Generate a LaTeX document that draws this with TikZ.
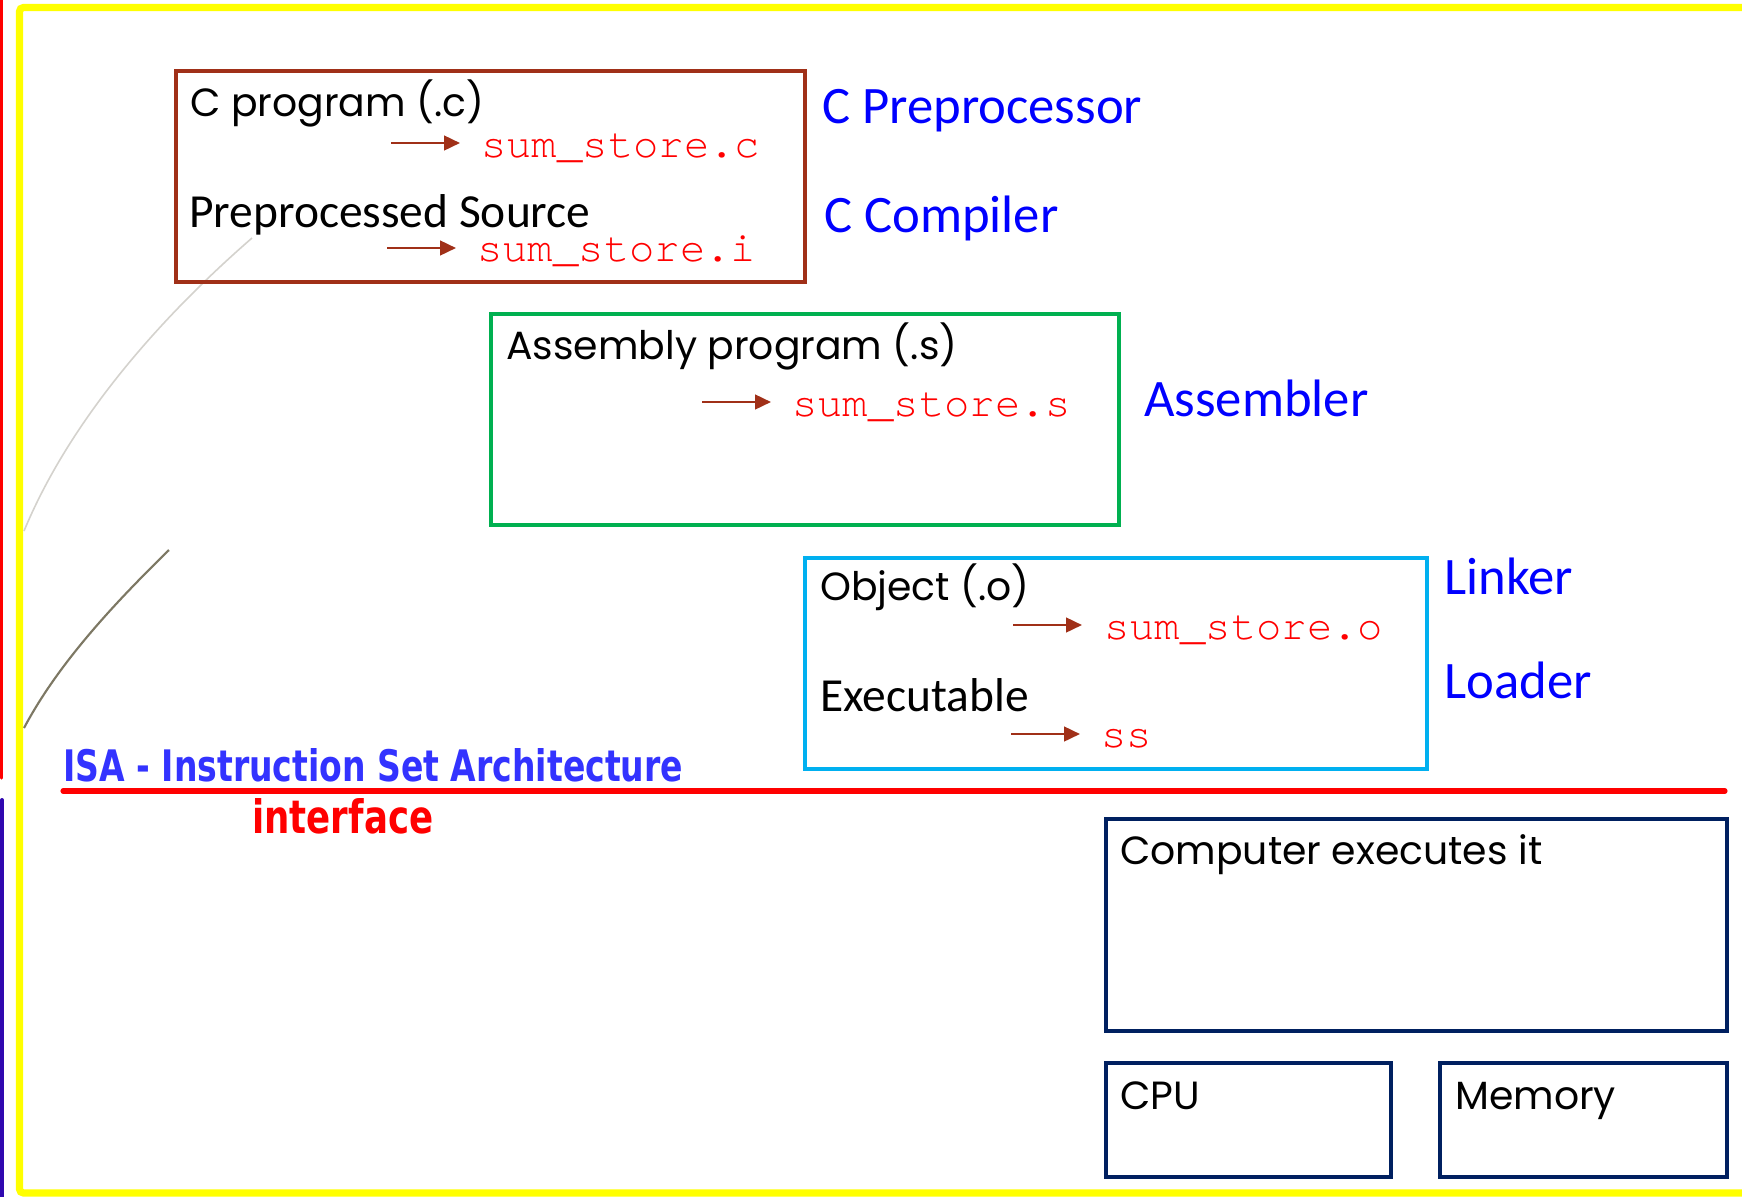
\documentclass[tikz,border=0pt]{standalone}
\usepackage{fontspec}
\usetikzlibrary{arrows.meta}
\setmainfont{Carlito}
\newfontfamily\gothic{Poppins}
\newfontfamily\courfont{TeX Gyre Cursor}
\newfontfamily\isafont{DejaVu Sans}

\definecolor{frameyellow}{RGB}{255,255,0}
\definecolor{brownline}{RGB}{160,48,24}
\definecolor{greenline}{RGB}{0,176,80}
\definecolor{cyanline}{RGB}{0,176,240}
\definecolor{navyline}{RGB}{0,32,96}
\definecolor{labelblue}{RGB}{0,0,255}
\definecolor{isablue}{RGB}{51,51,255}
\definecolor{filered}{RGB}{255,0,0}
\definecolor{sideindigo}{RGB}{48,8,176}

\tikzset{
  stagebox/.style={draw, line width=3pt, inner sep=0pt, anchor=north west},
  gothictext/.style={anchor=base west, inner sep=0pt, font=\gothic\fontsize{29.5}{30}\selectfont},
  calibritext/.style={anchor=base west, inner sep=0pt, font=\fontsize{35.6}{36}\selectfont},
  toollabel/.style={anchor=base west, inner sep=0pt, text=labelblue, font=\fontsize{39.5}{40}\selectfont},
  filename/.style={anchor=base west, inner sep=0pt, text=filered, font=\courfont\fontsize{31.7}{32}\selectfont},
  filearrow/.style={draw=brownline, line width=1.9pt, -{Triangle[length=12pt,width=11pt]}},
}

\begin{document}
\begin{tikzpicture}[x=0.75pt, y=-0.75pt]
\useasboundingbox (0,0) rectangle (1742,1196);

% decorative swooshes on the left
\draw[color={rgb,255:red,212;green,210;blue,205}, line width=1.2pt]
  (252,238) .. controls (160,318) and (70,420) .. (24,531);
\draw[color={rgb,255:red,125;green,120;blue,100}, line width=1.6pt]
  (169,550) .. controls (120,598) and (60,660) .. (24,728);

% side bars and slide frame
\draw[filered, line width=2.4pt, line cap=round] (1.5,-10) -- (1.5,778);
\draw[sideindigo, line width=3pt, line cap=round] (2,800) -- (2,1210);
\draw[frameyellow, line width=5.4pt, rounded corners=3pt] (1800,7.5) -- (19.5,7.5) -- (19.5,1193) -- (1800,1193);

% C source stage
\node[stagebox, draw=brownline, minimum width=629*0.75pt, minimum height=211*0.75pt] (cbox) at (174,69) {};
\node[gothictext] (cprog) at (190,116) {C program (.c)};
\coordinate (a1s) at (391,143);
\coordinate (a1e) at (460,143);
\node[filename] (fc) at (481,157) {sum\_store.c};
\draw[filearrow] (a1s) -- (a1e);
\node[calibritext] (ppsrc) at (189,227) {Preprocessed Source};
\coordinate (a2s) at (387,248);
\coordinate (a2e) at (456,248);
\node[filename] (fi) at (477,261) {sum\_store.i};
\draw[filearrow] (a2s) -- (a2e);

\node[toollabel] (cpp) at (822,123) {C Preprocessor};
\node[toollabel] (cc) at (824,232) {C Compiler};

% assembly stage
\node[stagebox, draw=greenline, minimum width=628*0.75pt, minimum height=211*0.75pt] (sbox) at (489,312) {};
\node[gothictext] (asmprog) at (506,359) {Assembly program (.s)};
\coordinate (a3s) at (702,402);
\coordinate (a3e) at (771,402);
\node[filename] (fs) at (792,416) {sum\_store.s};
\draw[filearrow] (a3s) -- (a3e);
\node[toollabel] (as) at (1144,416) {Assembler};

% object / executable stage
\node[stagebox, draw=cyanline, minimum width=622*0.75pt, minimum height=211*0.75pt] (obox) at (803,556) {};
\node[gothictext] (obj) at (820,600) {Object (.o)};
\coordinate (a4s) at (1013,625);
\coordinate (a4e) at (1082,625);
\node[filename] (fo) at (1104,639) {sum\_store.o};
\draw[filearrow] (a4s) -- (a4e);
\node[calibritext] (exe) at (820,711) {Executable};
\coordinate (a5s) at (1011,734);
\coordinate (a5e) at (1080,734);
\node[filename] (fss) at (1101,747) {ss};
\draw[filearrow] (a5s) -- (a5e);

\node[toollabel] (ld) at (1444,594) {Linker};
\node[toollabel] (lo) at (1444,698) {Loader};

% ISA interface
\node[anchor=base west, inner sep=0pt, text=isablue] (isa) at (63,781)
  {\resizebox{465pt}{24.75pt}{\isafont\bfseries ISA - Instruction Set Architecture}};
\coordinate (isaL) at (63,791);
\coordinate (isaR) at (1725,791);
\draw[filered, line width=3.8pt, line cap=round] (isaL) -- (isaR);
\node[anchor=base west, inner sep=0pt, text=filered] (intf) at (252,833)
  {\resizebox{135.75pt}{26.25pt}{\isafont\bfseries interface}};

% hardware
\node[stagebox, draw=navyline, minimum width=621*0.75pt, minimum height=212*0.75pt] (hw) at (1104,817) {};
\node[gothictext] (hwtxt) at (1120,864) {Computer executes it};
\node[stagebox, draw=navyline, minimum width=285*0.75pt, minimum height=114*0.75pt] (cpu) at (1104,1061) {};
\node[gothictext] (cputxt) at (1120,1109) {CPU};
\node[stagebox, draw=navyline, minimum width=287*0.75pt, minimum height=114*0.75pt] (mem) at (1438,1061) {};
\node[gothictext] (memtxt) at (1455,1109) {Memory};
\end{tikzpicture}
\end{document}
